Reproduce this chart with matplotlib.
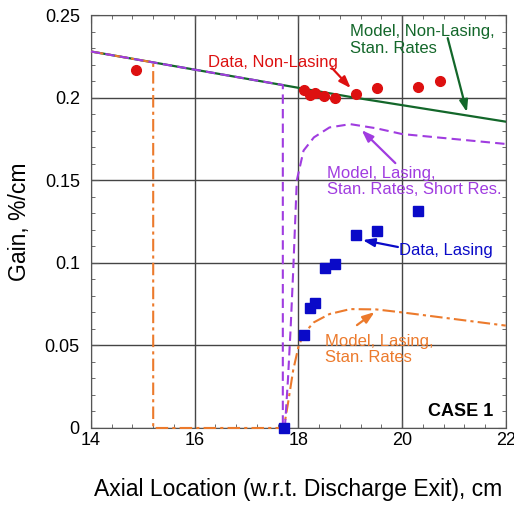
import numpy as np
import matplotlib
matplotlib.use("Agg")
import matplotlib.pyplot as plt
from matplotlib.ticker import MultipleLocator, FuncFormatter

plt.rcParams["font.family"] = ["Liberation Sans", "DejaVu Sans"]

# measured gain, non-lasing and lasing runs
x_nonlasing = [14.87, 18.10, 18.22, 18.32, 18.49, 18.70, 19.11, 19.51, 20.30, 20.74]
g_nonlasing = [0.2167, 0.2046, 0.2016, 0.2028, 0.2010, 0.1998, 0.2020, 0.2058, 0.2064, 0.2100]

x_lasing = [17.72, 18.10, 18.22, 18.32, 18.51, 18.70, 19.11, 19.51, 20.30]
g_lasing = [0.0, 0.0563, 0.0726, 0.0757, 0.0969, 0.0993, 0.1168, 0.1192, 0.1313]

# model curves
x_model_nl = [14, 15, 16, 17, 18, 19, 20, 21, 22]
g_model_nl = [0.228, 0.2225, 0.217, 0.2115, 0.206, 0.2005, 0.1955, 0.1905, 0.1855]

x_model_short = [14, 15, 16, 17, 17.7, 17.7, 17.74, 17.8, 17.85, 17.9, 17.97, 18.1,
                 18.3, 18.6, 19.0, 19.5, 20.0, 21.0, 22.0]
g_model_short = [0.228, 0.2225, 0.217, 0.2115, 0.2077, 0.0, 0.0, 0.03, 0.06, 0.095, 0.150, 0.168,
                 0.176, 0.182, 0.184, 0.1815, 0.178, 0.175, 0.172]

x_model_std = [14, 15, 15.2, 15.2, 17.72, 17.8, 17.9, 18.0, 18.1, 18.3, 18.6, 19.0,
               19.5, 20.0, 21.0, 22.0]
g_model_std = [0.228, 0.2225, 0.2214, 0.0, 0.0, 0.015, 0.035, 0.049, 0.057, 0.064, 0.069, 0.072,
               0.0718, 0.070, 0.066, 0.062]

RED = "#dd1010"
BLUE = "#0a0ac8"
GREEN = "#13672a"
PURPLE = "#a03ce0"
ORANGE = "#ec7a2c"

fig = plt.figure(figsize=(5.14, 5.05), dpi=100)
ax = fig.add_axes([0.177, 0.1525, 0.807, 0.8175])

ax.plot(x_model_nl, g_model_nl, color=GREEN, lw=1.6, zorder=3)
ax.plot(x_model_std, g_model_std, color=ORANGE, lw=1.5, dashes=[6, 2, 1.5, 2],
        clip_on=False, zorder=4)
ax.plot(x_model_short, g_model_short, color=PURPLE, lw=1.5, dashes=[4.5, 2.5],
        clip_on=False, zorder=5)

ax.plot(x_nonlasing, g_nonlasing, "o", color=RED, ms=7, zorder=6)
ax.plot(x_lasing, g_lasing, "s", color=BLUE, ms=7, clip_on=False, zorder=6)

ax.set_xlim(14, 22)
ax.set_ylim(0, 0.25)
ax.xaxis.set_major_locator(MultipleLocator(2))
ax.xaxis.set_minor_locator(MultipleLocator(0.4))
ax.yaxis.set_major_locator(MultipleLocator(0.05))
ax.yaxis.set_minor_locator(MultipleLocator(0.01))
ax.yaxis.set_major_formatter(FuncFormatter(lambda v, pos: f"{v:g}"))
ax.tick_params(which="both", direction="in", top=True, right=True, color="#555555")
ax.tick_params(which="major", length=6, labelsize=13)
ax.tick_params(axis="x", which="major", pad=3)
ax.tick_params(axis="y", which="major", pad=8)
ax.tick_params(which="minor", length=3)
ax.grid(which="major", color="#444444", lw=1.0)
for s in ax.spines.values():
    s.set_color("#555555")

ax.set_xlabel("Axial Location (w.r.t. Discharge Exit), cm", fontsize=16.5, labelpad=21)
ax.set_ylabel("Gain, %/cm", fontsize=16.5, labelpad=10)

# annotation labels
ax.text(16.255, 0.2215, "Data, Non-Lasing", color=RED, fontsize=12, va="center", zorder=7)
ax.text(18.99, 0.2349, "Model, Non-Lasing,\nStan. Rates", color=GREEN, fontsize=12,
        va="center", linespacing=1.1, zorder=7)
ax.text(18.55, 0.1492, "Model, Lasing,\nStan. Rates, Short Res.", color=PURPLE, fontsize=12,
        va="center", linespacing=1.1, zorder=7)
ax.text(19.94, 0.1077, "Data, Lasing", color=BLUE, fontsize=12, va="center", zorder=7)
ax.text(18.51, 0.0475, "Model, Lasing,\nStan. Rates", color=ORANGE, fontsize=12,
        va="center", linespacing=1.1, zorder=7)
ax.text(21.75, 0.0097, "CASE 1", fontsize=13, fontweight="bold", ha="right", va="center",
        bbox=dict(facecolor="white", edgecolor="none", pad=1), zorder=7)

# leader arrows: (start, tip, colour)
arrows = [
    ((18.65, 0.2179), (19.01, 0.2058), RED),
    ((20.88, 0.2361), (21.25, 0.1913), GREEN),
    ((19.87, 0.1604), (19.22, 0.1804), PURPLE),
    ((19.92, 0.1096), (19.24, 0.1138), BLUE),
    ((19.13, 0.0623), (19.47, 0.0702), ORANGE),
]
for start, tip, col in arrows:
    ax.annotate("", xy=tip, xytext=start, zorder=7,
                arrowprops=dict(arrowstyle="-|>,head_length=0.7,head_width=0.25",
                                color=col, lw=1.6, shrinkA=0, shrinkB=0))

fig.savefig("out.png", dpi=100)
